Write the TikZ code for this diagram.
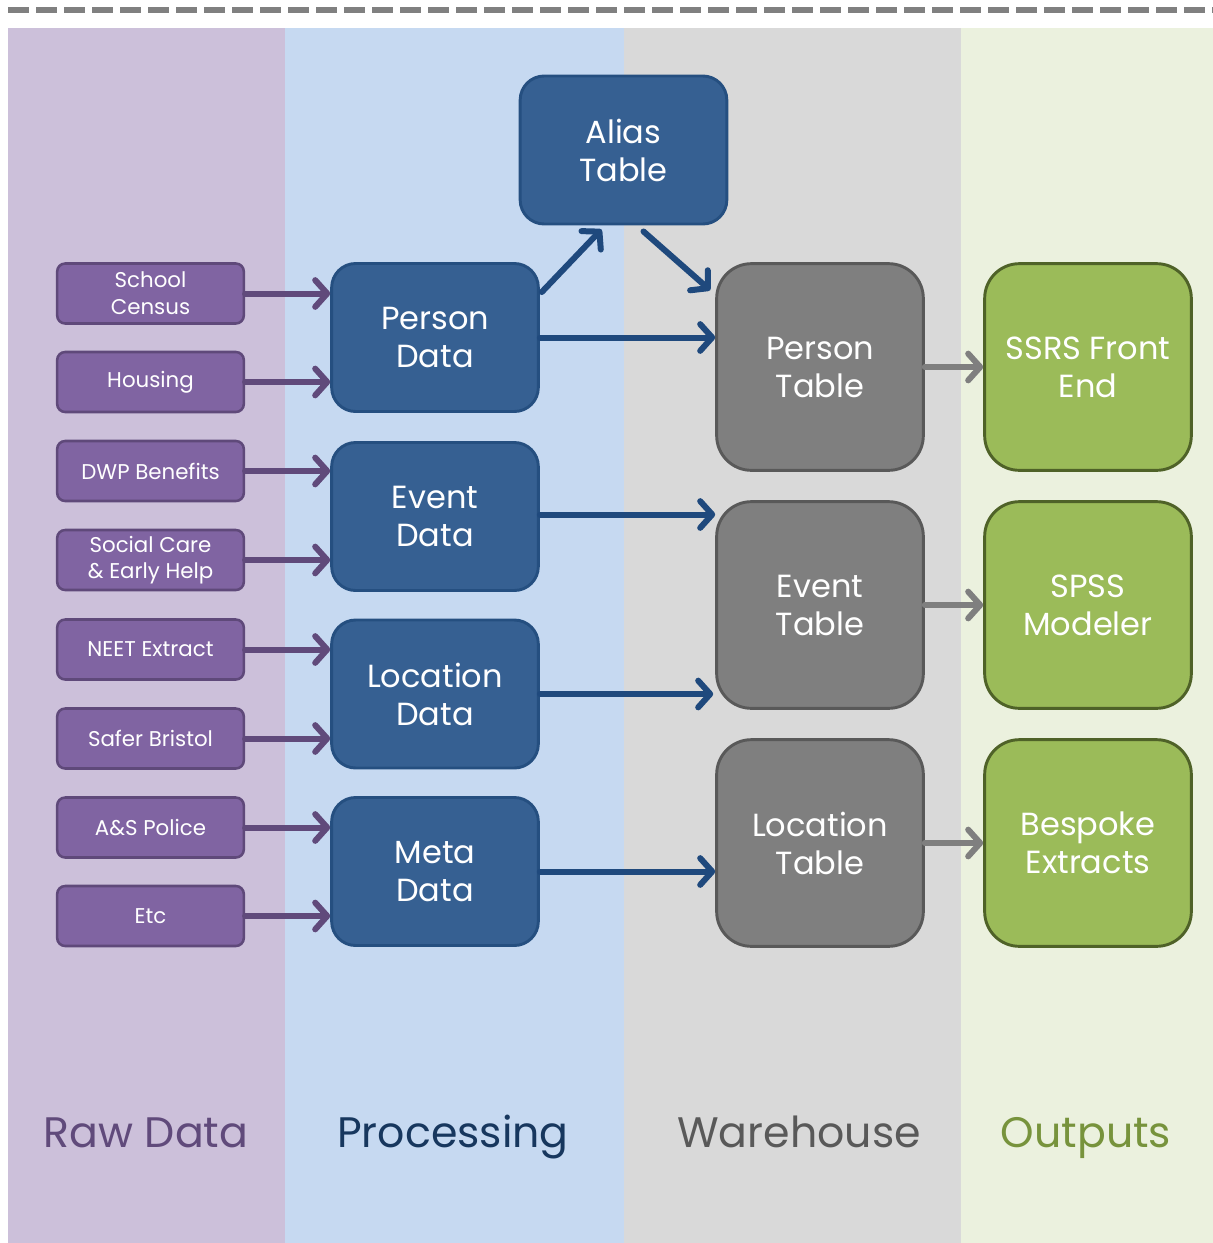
\documentclass[tikz,border=0pt]{standalone}
\usepackage{fontspec}
\setmainfont{Poppins}
\usetikzlibrary{arrows.meta,calc}
\definecolor{bandraw}{HTML}{CCC0DA}
\definecolor{bandproc}{HTML}{C6D9F1}
\definecolor{bandwh}{HTML}{D9D9D9}
\definecolor{bandout}{HTML}{EBF1DE}
\definecolor{rawfill}{HTML}{8064A2}
\definecolor{rawdraw}{HTML}{5F497A}
\definecolor{rawarrow}{HTML}{604A7B}
\definecolor{procfill}{HTML}{366092}
\definecolor{procdraw}{HTML}{254F80}
\definecolor{procarrow}{HTML}{1F497D}
\definecolor{whfill}{HTML}{7F7F7F}
\definecolor{whdraw}{HTML}{595959}
\definecolor{outfill}{HTML}{9BBB59}
\definecolor{outdraw}{HTML}{4F6228}
\definecolor{lblraw}{HTML}{604A7B}
\definecolor{lblproc}{HTML}{17375E}
\definecolor{lblwh}{HTML}{595959}
\definecolor{lblout}{HTML}{77933C}
\definecolor{dashgray}{HTML}{808080}
\tikzset{
  rawbox/.style={draw=rawdraw, fill=rawfill, line width=1.9pt, rounded corners=6pt,
    minimum width=140pt, minimum height=45pt, text=white, align=center,
    font=\fontsize{16}{20}\selectfont, inner sep=0pt},
  procbox/.style={draw=procdraw, fill=procfill, line width=2.2pt, rounded corners=18pt,
    minimum width=155pt, minimum height=111pt, text=white, align=center,
    font=\fontsize{24}{28.5}\selectfont, inner sep=0pt},
  whbox/.style={draw=whdraw, fill=whfill, line width=2.2pt, rounded corners=26pt,
    minimum width=155pt, minimum height=155pt, text=white, align=center,
    font=\fontsize{24}{28.5}\selectfont, inner sep=0pt},
  outbox/.style={draw=outdraw, fill=outfill, line width=2.2pt, rounded corners=26pt,
    minimum width=155pt, minimum height=155pt, text=white, align=center,
    font=\fontsize{24}{28.5}\selectfont, inner sep=0pt},
  conn/.style={line width=4.5pt, line cap=round,
    -{Straight Barb[length=9pt, width=20pt, round]}},
  rawconn/.style={conn, draw=rawarrow},
  procconn/.style={conn, draw=procarrow},
  whconn/.style={conn, draw=whfill},
  bandlbl/.style={font=\fontsize{32}{38}\selectfont, anchor=base}
}
\begin{document}
\begin{tikzpicture}[x=0.75pt, y=-0.75pt]
\useasboundingbox (0,0) rectangle (1213,1243);
% bands
\fill[bandraw] (8,28) rectangle (285,1243);
\fill[bandproc] (285,28) rectangle (624,1243);
\fill[bandwh] (624,28) rectangle (961,1243);
\fill[bandout] (961,28) rectangle (1213,1243);
% top dashed line
\draw[dashgray, line width=4.5pt, dash pattern=on 15.75pt off 5.25pt] (8,10) -- (1213,10);
% raw boxes
\node[rawbox] (sc) at (150.5,293.5) {School\\Census};
\node[rawbox] (ho) at (150.5,382) {Housing};
\node[rawbox] (dw) at (150.5,471) {DWP Benefits};
\node[rawbox] (so) at (150.5,560) {Social Care\\\& Early Help};
\node[rawbox] (ne) at (150.5,649.5) {NEET Extract};
\node[rawbox] (sb) at (150.5,738.5) {Safer Bristol};
\node[rawbox] (ap) at (150.5,827.5) {A\&S Police};
\node[rawbox] (et) at (150.5,916) {Etc};
% processing
\node[procbox] (al) at (623.5,150) {Alias\\Table};
\node[procbox] (pd) at (435,337.5) {Person\\Data};
\node[procbox] (ed) at (435,516.5) {Event\\Data};
\node[procbox] (ld) at (435,694) {Location\\Data};
\node[procbox] (md) at (435,871.5) {Meta\\Data};
% warehouse
\node[whbox] (pt) at (820,367) {Person\\Table};
\node[whbox] (ett) at (820,605) {Event\\Table};
\node[whbox] (lt) at (820,843) {Location\\Table};
% outputs
\node[outbox] (ss) at (1088,367) {SSRS Front\\End};
\node[outbox] (sp) at (1088,605) {SPSS\\Modeler};
\node[outbox] (be) at (1088,843) {Bespoke\\Extracts};
% raw arrows
\draw[rawconn] (sc.east) -- (sc.east -| pd.west);
\draw[rawconn] (ho.east) -- (ho.east -| pd.west);
\draw[rawconn] (dw.east) -- (dw.east -| ed.west);
\draw[rawconn] (so.east) -- (so.east -| ed.west);
\draw[rawconn] (ne.east) -- (ne.east -| ld.west);
\draw[rawconn] (sb.east) -- (sb.east -| ld.west);
\draw[rawconn] (ap.east) -- (ap.east -| md.west);
\draw[rawconn] (et.east) -- (et.east -| md.west);
% processing arrows
\coordinate (a1s) at ($(pd.north east)+(2,30)$);
\coordinate (a1e) at ($(al.south)+(-22,4)$);
\draw[procconn] (a1s) -- (a1e);
\coordinate (a2s) at ($(al.south)+(20,6)$);
\coordinate (a2e) at ($(pt.north west)+(-5,28)$);
\draw[procconn] (a2s) -- (a2e);
\draw[procconn] (pd.east) -- (pd.east -| pt.west);
\draw[procconn] ($(ed.east)+(0,-2)$) -- ($(ed.east -| ett.west)+(0,-2)$);
\draw[procconn] (ld.east) -- ($(ld.east -| ett.west)+(-2,0)$);
\draw[procconn] (md.east) -- (md.east -| lt.west);
% warehouse arrows
\draw[whconn] (pt.east) -- (ss.west);
\draw[whconn] (ett.east) -- (sp.west);
\draw[whconn] (lt.east) -- (be.west);
% band labels
\node[bandlbl, text=lblraw] (l1) at (146,1147) {Raw Data};
\node[bandlbl, text=lblproc] (l2) at (453,1147) {Processing};
\node[bandlbl, text=lblwh] (l3) at (799,1147) {Warehouse};
\node[bandlbl, text=lblout] (l4) at (1086,1147) {Outputs};
\end{tikzpicture}
\end{document}
